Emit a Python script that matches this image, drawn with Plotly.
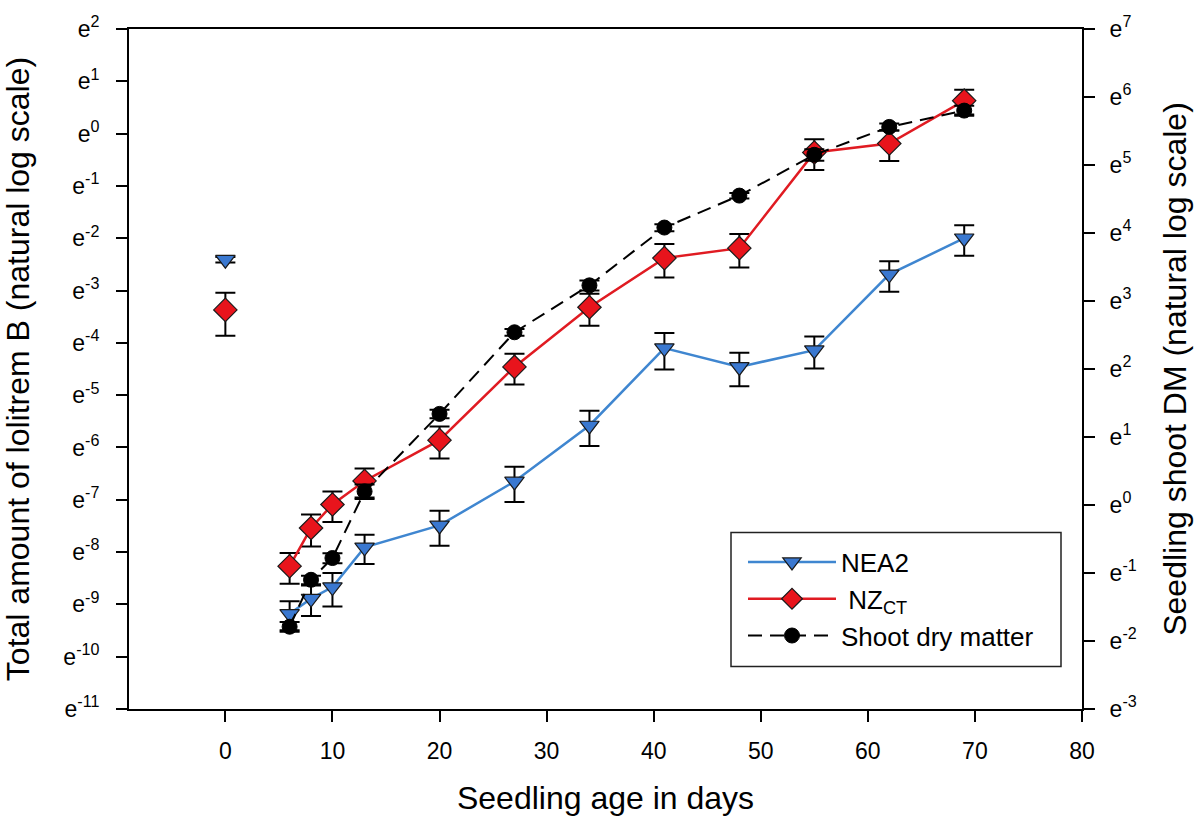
import numpy as np
import plotly.graph_objects as go

# ---- data (natural-log values) ----
days = [6, 8, 10, 13, 20, 27, 34, 41, 48, 55, 62, 69]
day0 = [0]

# NEA2: ln(total lolitrem B) and ln of the upper error-bar cap
nea2_ln = [-9.18, -8.89, -8.67, -7.91, -7.49, -6.65, -5.58, -4.10, -4.46, -4.14, -2.69, -2.00]
nea2_ln_top = [-8.94, -8.64, -8.40, -7.67, -7.21, -6.37, -5.30, -3.81, -4.19, -3.88, -2.44, -1.75]
nea2_day0_ln = [-2.41]
nea2_day0_ln_top = [-2.36]

# NZ_CT
nzct_ln = [-8.27, -7.54, -7.09, -6.64, -5.86, -4.46, -3.32, -2.38, -2.19, -0.36, -0.19, 0.63]
nzct_ln_top = [-8.02, -7.28, -6.84, -6.40, -5.60, -4.21, -3.06, -2.11, -1.92, -0.11, 0.06, 0.84]
nzct_day0_ln = [-3.37]
nzct_day0_ln_top = [-3.04]

# Shoot dry matter (right axis): ln(DM) and ln of upper cap
dm_ln = [-1.79, -1.10, -0.78, 0.20, 1.34, 2.54, 3.23, 4.08, 4.55, 5.15, 5.56, 5.80]
dm_ln_top = [-1.72, -1.04, -0.71, 0.30, 1.40, 2.59, 3.30, 4.13, 4.59, 5.23, 5.61, 5.87]

left_exps = list(range(-11, 3))
right_exps = list(range(-3, 8))
x_ticks = list(range(0, 90, 10))


def vals(ln):
    return np.exp(np.array(ln))


def errs(ln, ln_top):
    return np.exp(np.array(ln_top)) - np.exp(np.array(ln))


BLUE_LINE = "#3f86d0"
BLUE_FILL = "#3a78d0"
RED_LINE = "#e01b22"
RED_FILL = "#e8141c"
FONT = "Arial, Liberation Sans, sans-serif"

err_style = dict(type="data", symmetric=True, color="black", thickness=2, width=10)

fig = go.Figure()

fig.add_trace(go.Scatter(
    x=days, y=vals(nea2_ln), name="NEA2", mode="lines+markers",
    line=dict(color=BLUE_LINE, width=2.5),
    marker=dict(symbol="triangle-down", size=17, color=BLUE_FILL,
                line=dict(color="#1a1a1a", width=1.2)),
    error_y=dict(array=errs(nea2_ln, nea2_ln_top), **err_style),
))
fig.add_trace(go.Scatter(
    x=day0, y=vals(nea2_day0_ln), mode="markers", showlegend=False,
    marker=dict(symbol="triangle-down", size=17, color=BLUE_FILL,
                line=dict(color="#1a1a1a", width=1.2)),
    error_y=dict(array=errs(nea2_day0_ln, nea2_day0_ln_top), **err_style),
))
fig.add_trace(go.Scatter(
    x=days, y=vals(nzct_ln), name=" NZ<sub>CT</sub>", mode="lines+markers",
    line=dict(color=RED_LINE, width=2.5),
    marker=dict(symbol="diamond", size=18, color=RED_FILL,
                line=dict(color="#1a1a1a", width=1.2)),
    error_y=dict(array=errs(nzct_ln, nzct_ln_top), **err_style),
))
fig.add_trace(go.Scatter(
    x=day0, y=vals(nzct_day0_ln), mode="markers", showlegend=False,
    marker=dict(symbol="diamond", size=18, color=RED_FILL,
                line=dict(color="#1a1a1a", width=1.2)),
    error_y=dict(array=errs(nzct_day0_ln, nzct_day0_ln_top), **err_style),
))
fig.add_trace(go.Scatter(
    x=days, y=vals(dm_ln), name="Shoot dry matter", mode="lines+markers",
    yaxis="y2",
    line=dict(color="black", width=2, dash="14px,8px"),
    marker=dict(symbol="circle", size=15, color="black",
                line=dict(color="black", width=1)),
    error_y=dict(array=errs(dm_ln, dm_ln_top), **err_style),
))

LN10 = np.log(10)
eps = 1e-6
axis_common = dict(
    showline=True, linecolor="black", linewidth=2,
    ticks="outside", ticklen=11, tickwidth=2, tickcolor="black",
    showgrid=False, zeroline=False,
    tickfont=dict(family=FONT, size=23, color="black"),
    title_font=dict(family=FONT, size=32, color="black"),
)

# legend frame (paper coordinates of the boxed legend area)
PLOT_L, PLOT_R, PLOT_T, PLOT_B = 129, 1082, 23, 709
def px_x(p):
    return (p - PLOT_L) / (PLOT_R - PLOT_L)
def px_y(p):
    return (PLOT_B - p) / (PLOT_B - PLOT_T)

fig.update_layout(
    width=1204, height=823,
    margin=dict(l=PLOT_L, r=1204 - PLOT_R, t=PLOT_T, b=823 - PLOT_B),
    paper_bgcolor="white", plot_bgcolor="white",
    font=dict(family=FONT, color="black"),
    xaxis=dict(
        range=[-9, 80], tickvals=x_ticks, mirror=True,
        title=dict(text="Seedling age in days", standoff=24),
        ticklabelstandoff=9,
        **axis_common,
    ),
    yaxis=dict(
        type="log",
        range=[-11 / LN10 - eps, 2 / LN10 + eps],
        tickvals=[np.exp(e) for e in left_exps],
        ticktext=[f"e<sup>{e}</sup>" for e in left_exps],
        title=dict(text="Total amount of lolitrem B (natural log scale)", standoff=24),
        ticklabelstandoff=12,
        **axis_common,
    ),
    yaxis2=dict(
        type="log", overlaying="y", side="right",
        range=[-3 / LN10 - eps, 7 / LN10 + eps],
        tickvals=[np.exp(e) for e in right_exps],
        ticktext=[f"e<sup>{e}</sup>" for e in right_exps],
        title=dict(text="Seedling shoot DM (natural log scale)", standoff=28),
        ticklabelstandoff=10,
        **axis_common,
    ),
    legend=dict(
        x=px_x(743), y=px_y(537), xanchor="left", yanchor="top",
        bgcolor="rgba(0,0,0,0)", borderwidth=0,
        font=dict(family=FONT, size=26, color="black"),
        itemwidth=88, tracegroupgap=0,
    ),
    shapes=[dict(
        type="rect", xref="paper", yref="paper",
        x0=px_x(731), x1=px_x(1061), y0=px_y(666), y1=px_y(531),
        line=dict(color="#222222", width=1.5), fillcolor="white", layer="above",
    )],
)

fig.write_html("out.html")
